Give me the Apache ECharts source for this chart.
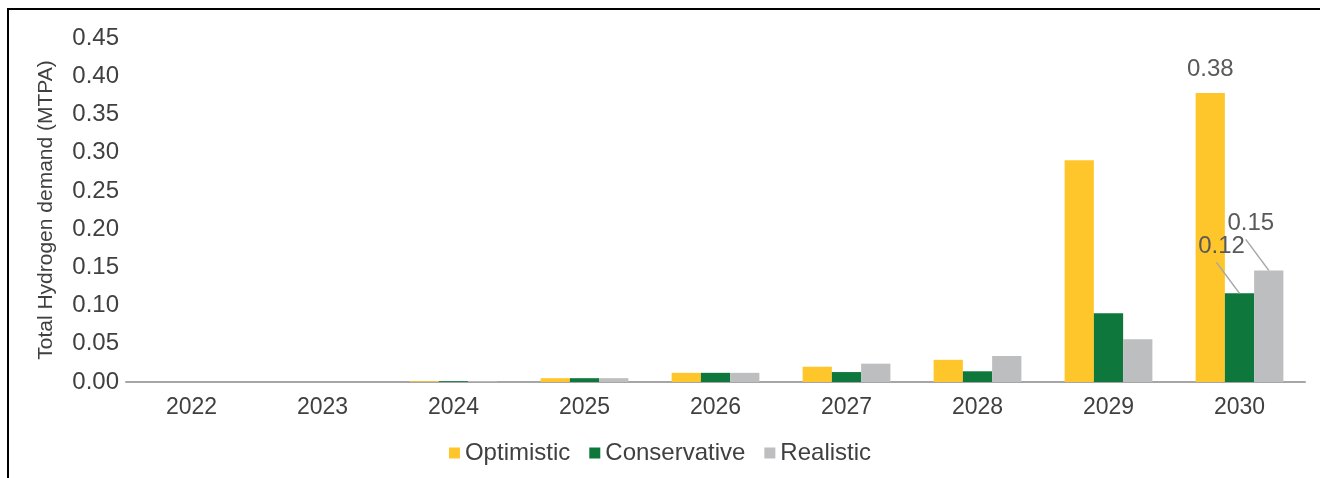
<!DOCTYPE html>
<html>
<head>
<meta charset="utf-8">
<script src="https://cdn.jsdelivr.net/npm/echarts@6/dist/echarts.min.js"></script>
<style>
  html, body { margin: 0; padding: 0; background: #fff; }
  #frame { position: absolute; left: 7px; top: 8px; width: 1313px; height: 470px;
           border-left: 2px solid #000; border-top: 2px solid #000; }
  #chart { position: absolute; left: 0; top: 0; width: 1320px; height: 478px; }
</style>
</head>
<body>
<div id="frame"></div>
<div id="chart"></div>
<script>
// Hydrogen demand projections by scenario (MTPA)
const years = ['2022', '2023', '2024', '2025', '2026', '2027', '2028', '2029', '2030'];
const optimistic   = [0, 0, 0.001, 0.005, 0.012, 0.020, 0.029, 0.290, 0.378];
const conservative = [0, 0, 0.001, 0.005, 0.012, 0.013, 0.014, 0.090, 0.116];
const realistic    = [0, 0, 0.001, 0.005, 0.012, 0.024, 0.034, 0.056, 0.146];
const yTicks = [0, 0.05, 0.10, 0.15, 0.20, 0.25, 0.30, 0.35, 0.40, 0.45];

const FONT = 'Liberation Sans, Arial, sans-serif';
const CATEGORY_GAP = 0.33;   // share of each category band left empty
const GROUP_SIZE = 3;        // bars per category
const last = years.length - 1;

// callouts with leader lines for the last-year conservative and realistic bars
// [category index, value, bar slot within the group]
const callouts = [
  [last, conservative[last], 1],
  [last, realistic[last], 2]
];

const chart = echarts.init(document.getElementById('chart'), null, { renderer: 'canvas' });
chart.setOption({
  animation: false,
  textStyle: { fontFamily: FONT },
  grid: { left: 126, right: 15, top: 38, bottom: 96 },
  legend: {
    bottom: 8,
    left: 'center',
    itemWidth: 11, itemHeight: 11, itemGap: 19,
    icon: 'rect',
    textStyle: { fontSize: 24, color: '#404040' },
    data: ['Optimistic', 'Conservative', 'Realistic']
  },
  xAxis: {
    type: 'category',
    data: years,
    axisLine: { lineStyle: { color: '#a6a6a6', width: 2 } },
    axisTick: { show: false },
    axisLabel: { fontSize: 23, color: '#404040', margin: 14 }
  },
  yAxis: {
    type: 'value',
    min: yTicks[0], max: yTicks[yTicks.length - 1], interval: 0.05,
    name: 'Total Hydrogen demand (MTPA)',
    nameLocation: 'middle',
    nameGap: 69,
    nameTextStyle: { fontSize: 21, color: '#404040' },
    splitLine: { show: false },
    axisLine: { show: false },
    axisTick: { show: false },
    axisLabel: { fontSize: 24, color: '#404040', margin: 7, formatter: v => v.toFixed(2) }
  },
  series: [
    {
      name: 'Optimistic', type: 'bar', barGap: '0%', barCategoryGap: (CATEGORY_GAP * 100) + '%',
      itemStyle: { color: '#ffc62b' },
      data: optimistic.map((v, i) => i === last
        ? { value: v, label: { show: true, position: 'top', distance: 12,
            fontSize: 24, color: '#595959', formatter: p => p.value.toFixed(2) } }
        : v)
    },
    {
      name: 'Conservative', type: 'bar',
      itemStyle: { color: '#0e773c' },
      data: conservative
    },
    {
      name: 'Realistic', type: 'bar',
      itemStyle: { color: '#bdbec0' },
      data: realistic
    },
    {
      name: 'callouts', type: 'custom',
      silent: true, z: 5,
      encode: { x: 0, y: 1 },
      data: callouts,
      renderItem(params, api) {
        const top = api.coord([api.value(0), api.value(1)]);
        const band = api.size([1, 0])[0];
        const barW = band * (1 - CATEGORY_GAP) / GROUP_SIZE;
        const x = top[0] + (api.value(2) - (GROUP_SIZE - 1) / 2) * barW;
        const y = top[1];
        return {
          type: 'group',
          children: [
            { type: 'line',
              shape: { x1: x, y1: y, x2: x - 23, y2: y - 31 },
              style: { stroke: '#a6a6a6', lineWidth: 1.5 } },
            { type: 'text',
              style: { text: api.value(1).toFixed(2), x: x - 18, y: y - 47,
                       align: 'center', verticalAlign: 'middle',
                       fontSize: 24, fontFamily: FONT, fill: '#595959' } }
          ]
        };
      }
    }
  ]
});
</script>
</body>
</html>
